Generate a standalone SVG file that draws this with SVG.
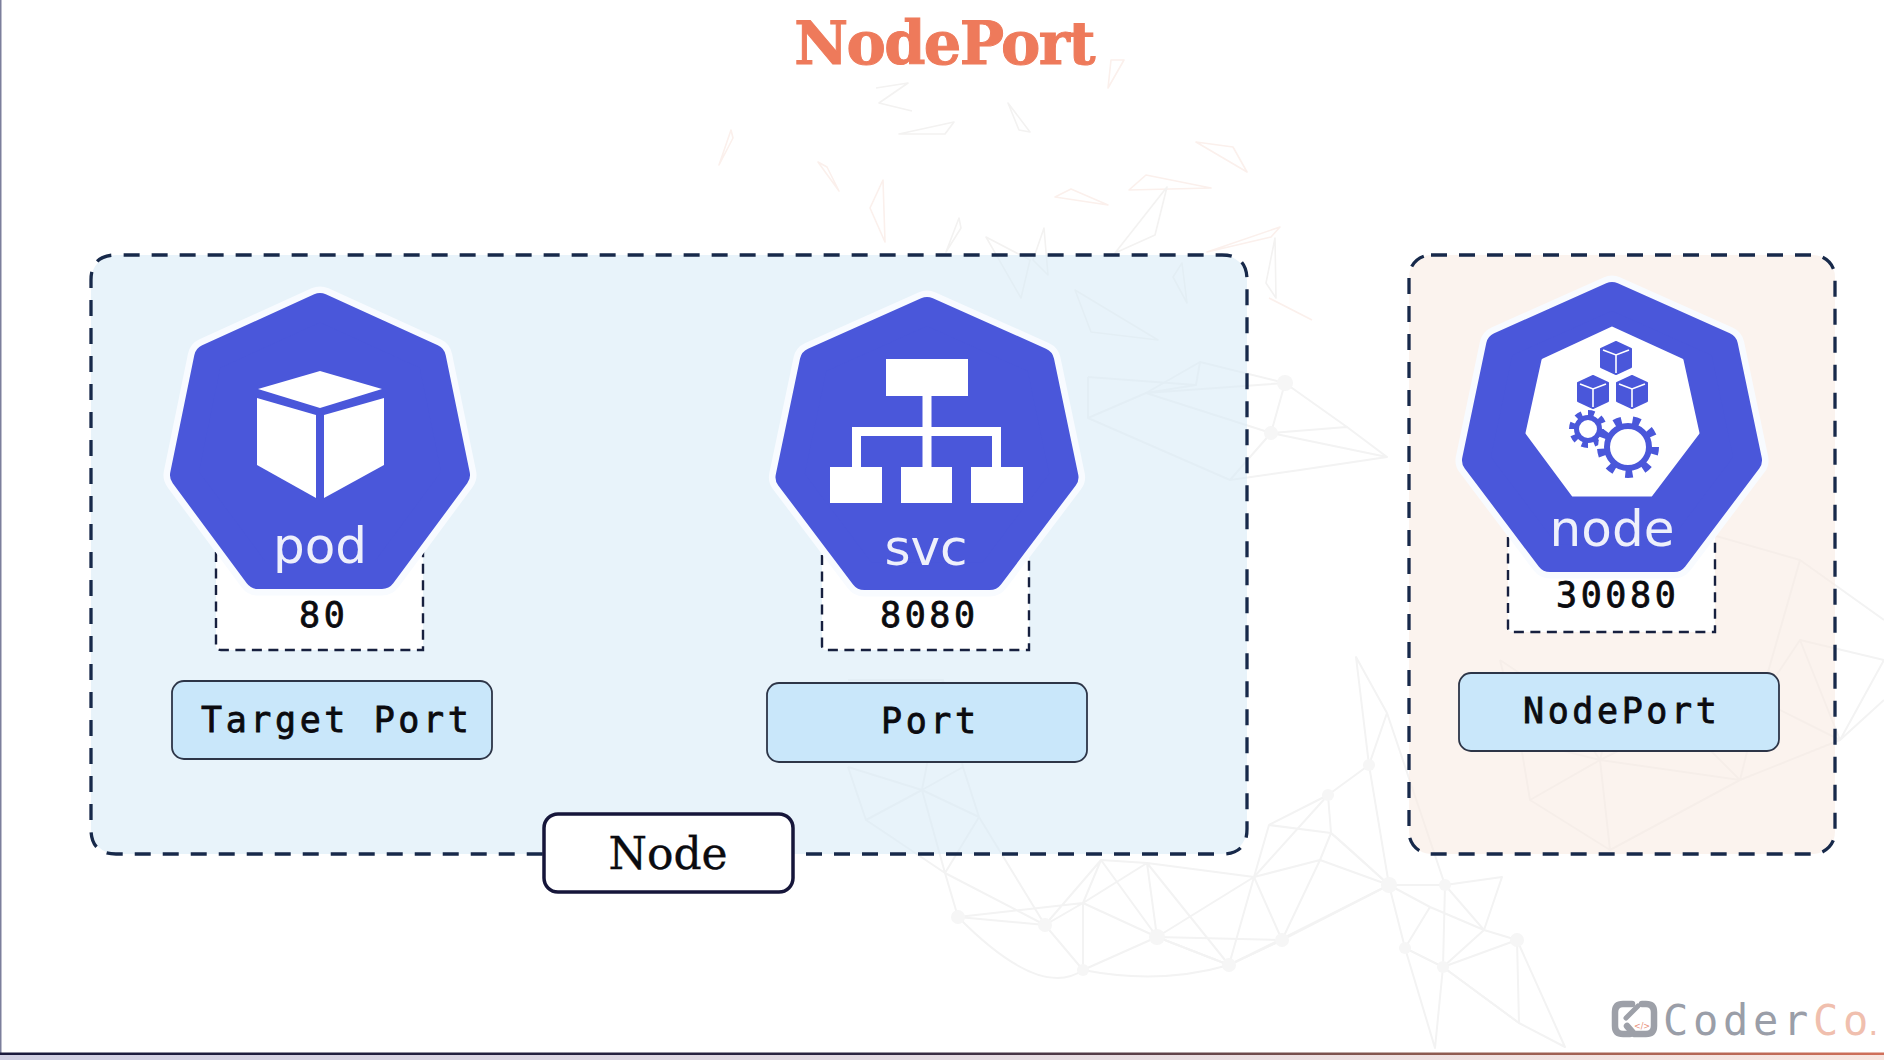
<svg xmlns="http://www.w3.org/2000/svg" width="1884" height="1060" viewBox="0 0 1884 1060">
<defs>
<style>
.mesh{fill:none;stroke:#f3f3f3;stroke-width:2;stroke-linejoin:round}
.blob{fill:#f6f6f6}
.shard{fill:none;stroke:#f3f2f1;stroke-width:1.6;stroke-linejoin:round}
.pink{stroke:#fbf0ec}
.dash{fill:none;stroke:#17294a;stroke-width:3.3;stroke-dasharray:16 12}
.pdash{fill:#fff;stroke:#17203f;stroke-width:2.4;stroke-dasharray:10 6.500}
.lab{fill:#c9e7fa;stroke:#2d3547;stroke-width:1.8}
.mono{font-family:"DejaVu Sans Mono",monospace;font-size:35px;letter-spacing:3.600px;fill:#0b0b0f;stroke:#0b0b0f;stroke-width:.8}
.kube{font-family:"DejaVu Sans",sans-serif;font-size:50px;fill:#eef0fb;text-anchor:middle}
.w{fill:#fff}
.b{fill:#4a57da}
.halo{fill:#fff;stroke:#f8fbff;stroke-width:41;stroke-linejoin:round}
.hept{fill:#4a57da;stroke:#4a57da;stroke-width:28;stroke-linejoin:round}
</style>
<polygon id="h7" points="0,14 112,65 136,182 62,282 -62,282 -136,182 -112,65"/>
<g id="cube">
<path d="M0,-16 L15,-9 V9 L0,16 L-15,9 V-9Z" class="b" stroke="#4a57da" stroke-width="2" stroke-linejoin="round"/>
<path d="M-13,-8 L0,-3 L13,-8 M0,-3 V15" fill="none" stroke="#fff" stroke-width="1.6"/>
</g>
<linearGradient id="rule" x1="0" x2="1" y1="0" y2="0"><stop offset="0" stop-color="#1a1a3c"/><stop offset=".45" stop-color="#2a2440"/><stop offset=".75" stop-color="#8a5a50"/><stop offset="1" stop-color="#d0705a"/></linearGradient>
<linearGradient id="rule2" x1="0" x2="1" y1="0" y2="0"><stop offset="0" stop-color="#cfcee2"/><stop offset="1" stop-color="#f8e6e0"/></linearGradient>
</defs>
<rect width="1884" height="1060" fill="#fff"/>
<g id="background">
<g class="shard">
<path d="M876,88L908,83L879,103L912,111"/><polygon points="899,134 954,122 945,134"/><polygon points="1008,103 1030,132 1019,130"/>
<polygon class="pink shard" points="731,130 719,165 733,138"/><polygon class="pink shard" points="818,162 839,191 827,167"/><polygon class="pink shard" points="883,180 870,208 885,242"/>
<polygon points="959,218 946,252 961,228"/><polygon points="986,237 1021,298 1030,260"/><polygon points="1044,228 1033,260 1048,275"/>
<polygon class="pink shard" points="1196,142 1247,172 1233,147"/><polygon class="pink shard" points="1129,190 1146,175 1211,188"/><polygon class="pink shard" points="1055,197 1071,189 1108,205"/>
<polygon points="1167,187 1115,253 1155,235"/><polygon class="pink shard" points="1207,252 1280,227 1271,237"/><polygon points="1275,238 1266,283 1276,298"/><path class="pink shard" d="M1269,298L1312,320"/>
<polygon class="pink shard" points="1111,60 1108,88 1124,60"/><polygon points="1075,290 1091,332 1158,340"/><polygon points="1173,277 1182,263 1187,303"/>
</g>
<g class="mesh">
<path d="M945,873L958,917L1045,925L1083,970L1157,937L1229,965L1282,940L1389,885L1445,885L1502,877L1484,930L1517,940L1565,1047L1519,1023L1443,967L1435,1048L1405,948L1389,885"/>
<path d="M945,873L1045,925L1083,903L1101,860L1147,863L1157,937L1083,903L958,917M1045,925L1101,860M1083,970L1083,903L1147,863L1229,965M1101,860L1157,937L1254,877L1229,965M1147,863L1254,877L1282,940L1320,860L1254,877L1269,825L1331,833L1320,860L1389,885"/>
<path d="M1254,877L1328,795L1269,825M1328,795L1331,833L1389,885L1369,765L1328,795M1369,765L1387,713L1356,657L1369,765M1387,713L1445,885M1430,907L1389,885M1430,907L1484,930L1445,885L1443,967L1484,930M1430,907L1405,948L1443,967L1519,1023L1517,940L1443,967"/>
<path d="M958,917Q1040,1000 1083,970Q1160,985 1229,965Q1300,930 1389,885Q1340,840 1331,833M1282,940L1229,965L1157,937L1282,940"/>
<path d="M848,767L922,790L963,767L979,817L922,790L866,820L848,767M866,820L945,873L979,817L1045,925M922,790L945,873M848,680L943,680L922,790L848,767M943,680L963,767"/>
<path d="M1088,377L1088,418L1146,393L1196,385L1200,362L1146,393L1285,383L1271,433L1146,393M1088,377L1196,385M1200,362L1285,383L1347,427L1271,433L1387,457L1347,427M1088,418L1230,480L1271,433L1285,383M1230,480L1300,470L1387,457"/>
<path d="M1500,660L1560,700L1620,680L1680,720L1600,760L1520,740L1500,660M1620,680L1600,760L1560,700L1520,740M1680,720L1760,700L1840,740L1884,700M1680,720L1740,780L1840,740L1760,700L1740,780L1600,760M1800,640L1884,660L1840,740L1800,640L1760,700"/>
<path d="M1520,740L1530,800L1600,760L1610,850M1530,800L1610,850L1740,780M1560,480L1660,520L1800,560L1884,620M1800,560L1760,700"/>
</g>
<g class="blob">
<circle cx="958" cy="917" r="7"/><circle cx="1045" cy="925" r="7"/><circle cx="1157" cy="937" r="8"/><circle cx="1083" cy="970" r="6"/><circle cx="1229" cy="965" r="7"/><circle cx="1282" cy="940" r="7"/><circle cx="1389" cy="885" r="8"/><circle cx="1445" cy="885" r="6"/><circle cx="1405" cy="948" r="6"/><circle cx="1443" cy="967" r="6"/><circle cx="1517" cy="940" r="7"/><circle cx="1328" cy="795" r="6"/><circle cx="1369" cy="765" r="6"/><circle cx="1285" cy="383" r="8"/><circle cx="1271" cy="433" r="7"/>
</g>
</g>
<rect x="0" y="0" width="1.500" height="1054" fill="#7c7f9c"/>
<rect x="0" y="1052.500" width="1884" height="2.500" fill="url(#rule)"/>
<rect x="0" y="1055" width="1884" height="5" fill="url(#rule2)"/>
<text id="title" x="944" y="64" font-family="'DejaVu Serif',serif" font-weight="700" font-size="59" letter-spacing="-1.600" fill="#ee7a5b" stroke="#ee7a5b" text-anchor="middle">NodePort</text>

<g id="node-frame">
<rect x="91" y="255" width="1156" height="599" rx="25" fill="#d9ebf7" fill-opacity=".6"/>
<path class="dash" d="M806,854H1222Q1247,854 1247,829V280Q1247,255 1222,255H116Q91,255 91,280V829Q91,854 116,854H543"/>
</g>
<g id="nodeport-frame">
<rect x="1409" y="255" width="426" height="599" rx="22" fill="#f8ebe3" fill-opacity=".6"/>
<rect class="dash" x="1409" y="255" width="426" height="599" rx="22"/>
</g>

<g id="pod">
<path class="pdash" d="M216,552V646Q216,650 221,650H423V552"/>
<use href="#h7" class="halo" x="320" y="293"/>
<use href="#h7" class="hept" x="320" y="293"/>
<path class="w" d="M320,371L382,389L320,408L258,389Z"/>
<path class="w" d="M257,398L316,415V498L257,465Z"/>
<path class="w" d="M324,415L384,398V465L324,498Z"/>
<text class="kube" x="320" y="563">pod</text>
<text class="mono" x="299" y="627">80</text>
</g>
<g id="target-port">
<rect class="lab" x="172" y="681" width="320" height="78" rx="12"/>
<text class="mono" x="201" y="732">Target Port</text>
</g>

<g id="svc">
<path class="pdash" d="M822,555V646Q822,650 827,650H1029V555"/>
<g transform="translate(927,297) scale(1.01,.99)">
<use href="#h7" class="halo"/>
<use href="#h7" class="hept"/>
</g>
<rect class="w" x="886" y="359" width="82" height="37"/>
<rect class="w" x="830" y="467" width="52" height="36"/>
<rect class="w" x="901" y="467" width="51" height="36"/>
<rect class="w" x="971" y="467" width="52" height="36"/>
<path fill="none" stroke="#fff" stroke-width="9" d="M927,396V467M856.500,467V431.500H996.500V467"/>
<text class="kube" x="926" y="565">svc</text>
<text class="mono" x="880" y="627">8080</text>
</g>
<g id="port">
<rect class="lab" x="767" y="683" width="320" height="79" rx="12"/>
<text class="mono" x="881" y="733">Port</text>
</g>

<g id="node">
<path class="pdash" d="M1508,537V628Q1508,632 1513,632H1715V537"/>
<g transform="translate(1612,282) scale(1,.98)">
<use href="#h7" class="halo"/>
<use href="#h7" class="hept"/>
</g>
<polygon class="w" stroke="#fff" stroke-width="3" stroke-linejoin="round" points="1612,328 1682,360 1698,433 1651,495 1573,495 1527,433 1543,360"/>
<use href="#cube" x="1616" y="358"/>
<use href="#cube" x="1593" y="392"/>
<use href="#cube" x="1632" y="392"/>
<circle cx="1588" cy="429" r="11.500" fill="none" stroke="#4a57da" stroke-width="5"/>
<circle cx="1588" cy="429" r="16" fill="none" stroke="#4a57da" stroke-width="6" pathLength="80" stroke-dasharray="5 5"/>
<circle cx="1628" cy="447" r="30" fill="#fff"/>
<circle cx="1628" cy="447" r="21" fill="none" stroke="#4a57da" stroke-width="6"/>
<circle cx="1628" cy="447" r="27" fill="none" stroke="#4a57da" stroke-width="8" pathLength="90" stroke-dasharray="4 6"/>
<text class="kube" x="1612" y="546">node</text>
<text class="mono" x="1556" y="607">30080</text>
</g>
<g id="nodeport">
<rect class="lab" x="1459" y="673" width="320" height="78" rx="12"/>
<text class="mono" x="1523" y="723">NodePort</text>
</g>

<g id="node-label">
<rect x="544" y="814" width="249" height="78" rx="14" fill="#fff" stroke="#16163a" stroke-width="3.500"/>
<text x="668" y="869" font-family="'DejaVu Serif',serif" font-size="44" fill="#0b0b0f" stroke="#0b0b0f" stroke-width=".4" text-anchor="middle">Node</text>
</g>

<g id="logo" fill="none" stroke="#9da0a8" stroke-width="6.500" stroke-linejoin="round" stroke-linecap="round">
<path d="M1632,1004H1623Q1615,1004 1615,1012V1026Q1615,1034 1623,1034H1630"/>
<path d="M1642,1004H1646Q1654,1004 1654,1012V1026Q1654,1034 1646,1034H1634L1627,1026"/>
<path d="M1626,1018L1638,1006" stroke-width="5"/>
<text x="1642" y="1029" font-family="'DejaVu Sans',sans-serif" font-size="8" fill="#e98f78" stroke="none" text-anchor="middle">&lt;/&gt;</text>
<text x="1663" y="1035" font-family="'DejaVu Sans Mono',monospace" font-size="42" letter-spacing="4.700" stroke="none"><tspan fill="#9a9ea8">Coder</tspan><tspan fill="#f0bfae">C</tspan><tspan fill="#f0bfae" letter-spacing="0">o</tspan><tspan fill="#f0bfae" font-family="'DejaVu Sans',sans-serif" font-size="32" letter-spacing="0">.</tspan></text>
</g>
</svg>
